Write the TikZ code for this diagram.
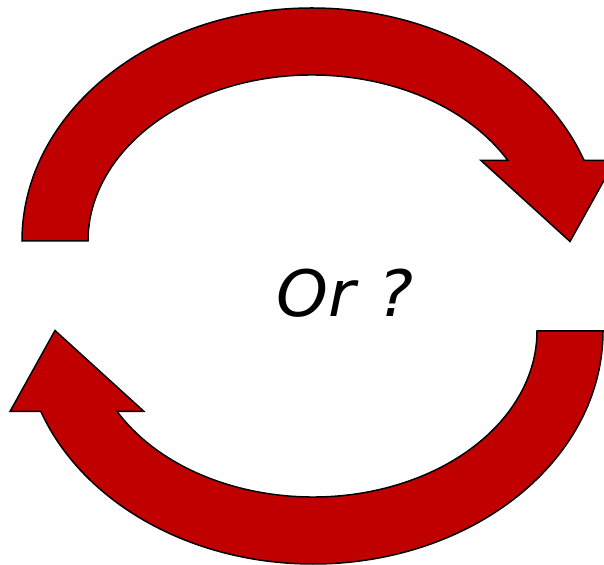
\documentclass[tikz,border=0pt]{standalone}
\usepackage{fontspec}
\newfontfamily\orfont{DejaVu Sans}
\definecolor{arrowred}{RGB}{192,0,0}
\tikzset{arrowshape/.style={fill=arrowred, draw=black, line width=1.5pt, line join=miter}}
\def\myarrowpath{(22,323) arc[start angle=180, end angle={asin(80.5/233)}, x radius=290pt, y radius=233pt] -- (615,403.5) -- (570,322.5) -- (481,403.5) -- ({312+224*cos(asin(80.5/166))},403.5) arc[start angle={asin(80.5/166)}, end angle=180, x radius=224pt, y radius=166pt] -- cycle}
\begin{document}
\begin{tikzpicture}[x=1pt,y=1pt]
\useasboundingbox (0,0) rectangle (604,564);
\clip (0,0) rectangle (604,564);
\fill[white] (0,0) rectangle (604,564);
\draw[arrowshape] \myarrowpath;
\draw[arrowshape, rotate around={180:(312.5,278)}] \myarrowpath;
\node[anchor=base west, inner sep=0pt, font=\orfont\itshape\fontsize{64}{70}\selectfont] (label) at (276,247) {\scalebox{1.03}[1]{Or\hspace{0.04em} ?}};
\end{tikzpicture}
\end{document}
